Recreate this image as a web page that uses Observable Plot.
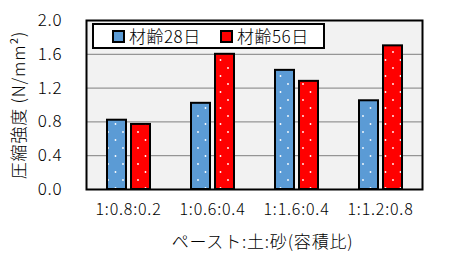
<!DOCTYPE html>
<html><head><meta charset="utf-8">
<script src="https://cdn.jsdelivr.net/npm/d3@7"></script>
<script src="https://cdn.jsdelivr.net/npm/@observablehq/plot@0.6"></script>
<style>
html,body{margin:0;padding:0;background:#fff;}
#wrap{position:relative;width:450px;height:258px;font-family:"Noto Sans CJK JP",sans-serif;}
#wrap svg text{font-weight:300;}
#legend{position:absolute;left:92px;top:23px;width:233px;height:26px;box-sizing:border-box;border:2px solid #000;background:#fff;font-size:17px;line-height:22px;color:#000;font-weight:300;}
.item{position:absolute;top:0;display:flex;align-items:center;height:22px;letter-spacing:0.5px;}
.sw{width:9px;height:9px;border:2px solid #000;margin-right:4px;}
</style></head>
<body><div id="wrap"></div>
<script>
const categories = ["1:0.8:0.2", "1:0.6:0.4", "1:1.6:0.4", "1:1.2:0.8"];
const seriesNames = ["材齢28日", "材齢56日"];
const age28 = [0.82, 1.02, 1.41, 1.05];
const age56 = [0.77, 1.60, 1.28, 1.70];
const yTicks = [0, 0.4, 0.8, 1.2, 1.6, 2.0];
const colors = ["#5b9bd5", "#ff0000"];

const d28 = categories.map((c, i) => ({cat: c, v: age28[i]}));
const d56 = categories.map((c, i) => ({cat: c, v: age56[i]}));

const chart = Plot.plot({
  width: 450, height: 258,
  marginLeft: 86, marginRight: 28, marginTop: 20, marginBottom: 69,
  style: {fontFamily: '"Noto Sans CJK JP", sans-serif', fontSize: "16px", color: "#000", background: "#fff", letterSpacing: "0.8px"},
  x: {domain: categories, padding: 0, label: null},
  y: {domain: [0, 2], label: null},
  marks: [
    Plot.frame({fill: "#f2f2f2"}),
    Plot.gridY(yTicks.filter(t => t > 0 && t < 2), {stroke: "#7f7f7f", strokeOpacity: 1}),
    Plot.barY(d28, {x: "cat", y: "v", insetLeft: 21, insetRight: 44, fill: "url(#dotBlue)", stroke: "#000", strokeWidth: 2}),
    Plot.barY(d56, {x: "cat", y: "v", insetLeft: 45, insetRight: 20, fill: "url(#dotRed)", stroke: "#000", strokeWidth: 2}),
    Plot.frame({stroke: "#000", strokeWidth: 2}),
    Plot.axisY({ticks: yTicks, tickFormat: d3.format(".1f"), tickSize: 0, tickPadding: 24,
      label: "圧縮強度 (N/mm²)", labelAnchor: "center", labelOffset: 74, labelArrow: "none", fontSize: 17}),
    Plot.axisX({tickSize: 0, tickPadding: 14, label: null, fontSize: 16}),
    Plot.text(["ペースト:土:砂(容積比)"], {frameAnchor: "bottom", dy: 58, dx: 8, fontSize: 17, letterSpacing: "0.5px"})
  ]
});

const ns = "http://www.w3.org/2000/svg";
const defs = document.createElementNS(ns, "defs");
[["dotBlue", colors[0]], ["dotRed", colors[1]]].forEach(([id, col]) => {
  const p = document.createElementNS(ns, "pattern");
  p.setAttribute("id", id);
  p.setAttribute("patternUnits", "userSpaceOnUse");
  p.setAttribute("width", 15);
  p.setAttribute("height", 16);
  const r = document.createElementNS(ns, "rect");
  r.setAttribute("width", 15); r.setAttribute("height", 16); r.setAttribute("fill", col);
  p.appendChild(r);
  [[3, 4], [10.5, 12]].forEach(([cx, cy]) => {
    const c = document.createElementNS(ns, "circle");
    c.setAttribute("cx", cx); c.setAttribute("cy", cy); c.setAttribute("r", 0.9); c.setAttribute("fill", "#fff");
    p.appendChild(c);
  });
  defs.appendChild(p);
});
chart.insertBefore(defs, chart.firstChild);

const wrap = document.getElementById("wrap");
wrap.appendChild(chart);
const legend = document.createElement("div");
legend.id = "legend";
seriesNames.forEach((name, i) => {
  const it = document.createElement("div");
  it.className = "item";
  it.style.left = (i === 0 ? 18 : 126) + "px";
  const sw = document.createElement("div");
  sw.className = "sw";
  sw.style.background = colors[i];
  it.appendChild(sw);
  const t = document.createElement("span");
  t.textContent = name;
  it.appendChild(t);
  legend.appendChild(it);
});
wrap.appendChild(legend);
</script></body></html>
